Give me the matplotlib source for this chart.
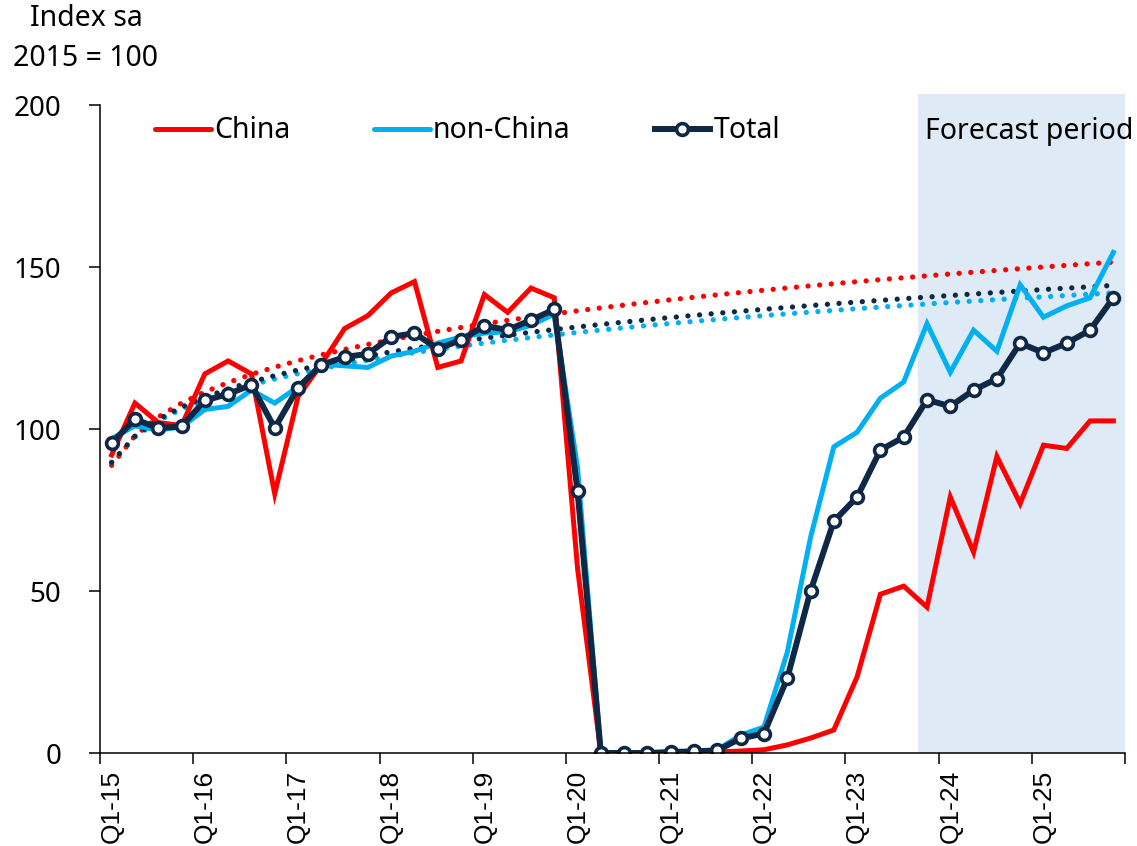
import numpy as np
import matplotlib
matplotlib.use('Agg')
import matplotlib.pyplot as plt
from matplotlib.lines import Line2D

# quarters Q1-15 .. Q4-25
years = list(range(15, 26))
quarters = ['Q%d-%d' % (q, y) for y in years for q in range(1, 5)]
year_labels = ['Q1-%d' % y for y in years]

china = [92, 108, 102, 101, 117, 121, 117, 80, 110, 120, 131, 135, 142, 145.5, 119, 121,
         141.5, 136, 143.5, 140.5, 57, 0, 0, 0, 0, 0, 0.3, 0.6, 1, 2.5, 4.6, 7.1,
         23.5, 49, 51.5, 45, 79, 62, 91.5, 77, 95, 94, 102.5, 102.5]
non_china = [97, 101, 99.7, 100.6, 106, 107, 112, 108, 113, 120, 119.5, 119, 122.5, 124, 126.5, 128.4,
             129.6, 130, 132, 135.5, 88, 0, 0, 0, 0, 0, 1, 5.5, 8, 31, 66.5, 94.5,
             99, 109.5, 114.5, 132.5, 117.5, 130.5, 124, 144.5, 134.5, 138, 140.5, 154.5]
total = [95.7, 103, 100.3, 100.8, 108.8, 110.8, 113.6, 100.3, 112.7, 119.8, 122.2, 123.2, 128.4, 129.6, 124.7, 127.5,
         131.8, 130.6, 133.6, 136.9, 80.8, 0, 0, 0, 0.3, 0.5, 0.8, 4.5, 6, 23, 50, 71.5,
         79, 93.5, 97.5, 109, 107, 112, 115.5, 126.5, 123.5, 126.5, 130.5, 140.5]

n_hist = 20            # trend fitted on Q1-15..Q4-19
forecast_start = 34.6  # shaded forecast period starts just before Q4-23

RED = '#FF0000'
CYAN = '#00B0F0'
NAVY = '#0F2846'
SHADE = '#DEEAF6'

plt.rcParams['font.family'] = ['Noto Sans', 'DejaVu Sans']

x = np.arange(len(quarters))

fig = plt.figure(figsize=(11.37, 8.46), dpi=100)
ax = fig.add_axes([100 / 1137, 1 - 753 / 846, 1025 / 1137, 648 / 846])

ax.axvspan(forecast_start, len(quarters) - 0.5, ymin=0, ymax=1.017,
           color=SHADE, lw=0, zorder=0, clip_on=False)


def power_trend(vals):
    # excel style power trendline on the pre-covid quarters
    t = np.arange(1, n_hist + 1)
    a, b = np.polyfit(np.log(t), np.log(vals[:n_hist]), 1)
    return np.exp(b) * (x + 1) ** a


dot = dict(lw=3.8, linestyle=(0, (0.01, 2.2)), dash_capstyle='round', zorder=3)
ax.plot(x, power_trend(china), color=RED, **dot)
ax.plot(x, power_trend(non_china), color=CYAN, **dot)
ax.plot(x, power_trend(total), color=NAVY, **dot)

ax.plot(x, non_china, color=CYAN, lw=3.6, zorder=4, solid_joinstyle='miter')
ax.plot(x, china, color=RED, lw=3.6, zorder=4, solid_joinstyle='miter')
ax.plot(x, total, color=NAVY, lw=4.3, marker='o', ms=8.5, mfc='white', mec=NAVY, mew=2.6, zorder=5)

ax.set_xlim(-0.5, len(quarters) - 0.5)
ax.set_ylim(0, 200)
ax.set_yticks([0, 50, 100, 150, 200])
ax.tick_params(axis='y', direction='out', length=8, width=1.1, pad=20, labelsize=20)

ax.set_xticks(np.arange(-0.5, len(quarters), 4))
ax.set_xticklabels([])
ax.set_xticks(x[::4], year_labels, minor=True)
ax.tick_params(axis='x', which='major', direction='out', length=8, width=1.1)
ax.tick_params(axis='x', which='minor', length=0, pad=12)
for lab in ax.get_xticklabels(minor=True):
    lab.set_rotation(90)
    lab.set_fontfamily('Liberation Sans')
    lab.set_fontsize(19)

for s in ['top', 'right']:
    ax.spines[s].set_visible(False)
for s in ['left', 'bottom']:
    ax.spines[s].set_linewidth(1.1)
    ax.spines[s].set_color('black')
ax.spines['bottom'].set_zorder(6)

handles = [Line2D([], [], color=RED, lw=3.6, solid_capstyle='round'),
           Line2D([], [], color=CYAN, lw=3.6, solid_capstyle='round'),
           Line2D([], [], color=NAVY, lw=4.3, marker='o', ms=8.5, mfc='white', mec=NAVY, mew=2.6)]
ax.legend(handles, ['China', 'non-China', 'Total'], ncol=3, loc='center left',
          bbox_to_anchor=(55 / 1025, (753 - 131) / 648), frameon=False, fontsize=20.5,
          handlelength=1.95, handletextpad=0.12, columnspacing=2.95,
          borderaxespad=0, borderpad=0)

ax.text(len(quarters) - 0.5 + 8 / 23.3, (753 - 131) / 3.24, 'Forecast period',
        ha='right', va='center', fontsize=20.5, zorder=6)

fig.text(30 / 1137, 1 - 19 / 846, 'Index sa', ha='left', va='center', fontsize=20.5)
fig.text(13 / 1137, 1 - 58 / 846, '2015 = 100', ha='left', va='center', fontsize=20.5)

fig.savefig('out.png', dpi=100)
